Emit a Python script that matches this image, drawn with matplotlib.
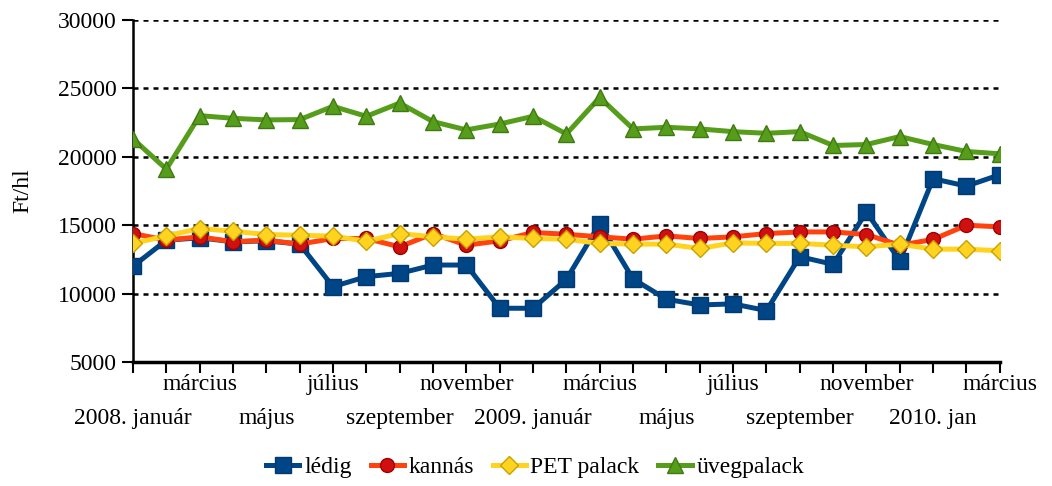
import matplotlib.pyplot as plt

# months 2008. január .. 2010. március
months = list(range(27))
tick_labels = ["2008. január", "március", "május", "július", "szeptember",
               "november", "2009. január", "március", "május", "július",
               "szeptember", "november", "2010. jan", "március"]

ledig = [12000, 13900, 14080, 13790, 13860, 13620, 10510, 11240, 11480, 12090,
         12090, 8930, 8930, 11040, 15120, 11070, 9590, 9170, 9250, 8760,
         12700, 12140, 15970, 12400, 18400, 17860, 18690]
kannas = [14390, 13910, 14150, 13790, 13910, 13620, 14030, 14030, 13420, 14390,
          13540, 13860, 14470, 14340, 14150, 13980, 14220, 14030, 14150, 14390,
          14510, 14510, 14320, 13540, 13960, 15000, 14880]
pet = [13670, 14220, 14760, 14560, 14320, 14270, 14200, 13830, 14390, 14150,
       13980, 14150, 14030, 13980, 13670, 13620, 13620, 13300, 13710, 13670,
       13670, 13540, 13420, 13620, 13250, 13250, 13130]
uveg = [21310, 19100, 23010, 22815, 22700, 22720, 23690, 22960, 23930, 22570,
        21970, 22400, 22960, 21670, 24340, 22040, 22160, 22040, 21840, 21720,
        21840, 20830, 20900, 21480, 20900, 20390, 20220]

plt.rcParams['font.family'] = ['Liberation Serif', 'DejaVu Serif']

fig = plt.figure(figsize=(10.52, 4.86), dpi=100)
ax = fig.add_axes([0.1264, 0.2551, 0.824, 0.7037])

for v in [10000, 15000, 20000, 25000, 30000]:
    ax.axhline(v, color='black', linestyle=(0, (2, 2)), linewidth=1.8, zorder=1)

ax.plot(months, ledig, color='#004586', lw=3.6, marker='s', ms=11,
        mec='#003a70', label='lédig', zorder=3)
ax.plot(months, kannas, color='#ff420e', lw=3.6, marker='o', ms=10,
        mfc='#d01010', mec='#a00000', label='kannás', zorder=4)
ax.plot(months, pet, color='#ffd320', lw=3.6, marker='D', ms=9,
        mfc='#ffd320', mec='#c8a000', label='PET palack', zorder=5)
ax.plot(months, uveg, color='#579d1c', lw=3.6, marker='^', ms=12,
        mec='#3f7a10', label='üvegpalack', zorder=6)

ax.set_xlim(0, 26)
ax.set_ylim(5000, 30000)
ax.set_yticks(range(5000, 30001, 5000))
ax.tick_params(axis='y', labelsize=17, length=8, width=1.5, direction='out')
ax.set_xticks(months)
ax.set_xticklabels([])
ax.tick_params(axis='x', length=8, width=1.5, direction='out')

for i, lab in enumerate(tick_labels):
    pos = i * 2
    y = -0.066 if i % 2 == 1 else -0.166
    ax.text(pos, y, lab, transform=ax.get_xaxis_transform(),
            ha='center', va='center', fontsize=17)

ax.set_ylabel('Ft/hl', fontsize=17, labelpad=18)

for s in ['top', 'right']:
    ax.spines[s].set_visible(False)
ax.spines['left'].set_linewidth(1.8)
ax.spines['bottom'].set_linewidth(2.5)
ax.spines['bottom'].set_zorder(7)

ax.legend(loc='center', bbox_to_anchor=(0.464, -0.307), ncol=4,
          frameon=False, fontsize=17, handlelength=1.4, handletextpad=0.2,
          columnspacing=0.8)

fig.savefig('out.png', dpi=100)
